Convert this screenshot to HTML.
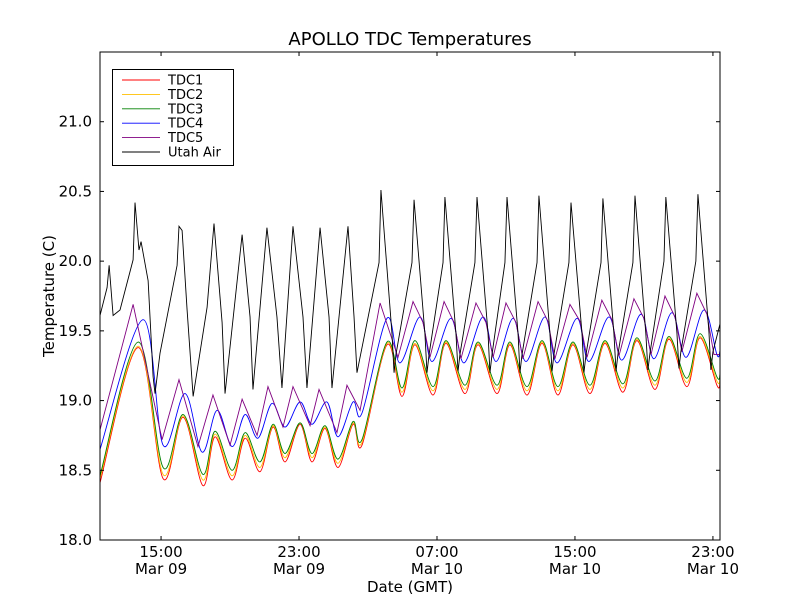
<!DOCTYPE html>
<html><head><meta charset="utf-8"><style>
body{margin:0;background:#fff;}
svg{display:block;font-family:"DejaVu Sans","Liberation Sans",sans-serif;}
</style></head><body>
<svg id="chart" width="800" height="600">
<rect x="0" y="0" width="800" height="600" fill="#fff"/>
<text x="410" y="45" font-size="18" text-anchor="middle">APOLLO TDC Temperatures</text>
<text x="410" y="592" font-size="15" text-anchor="middle">Date (GMT)</text>
<text x="54" y="296" font-size="15" text-anchor="middle" transform="rotate(-90 54 296)">Temperature (C)</text>
<g id="plot"></g>
<g id="axes"></g>
<g id="legend"></g>
</svg>
<script>
const xTicks=[15,23,31,39,47];
const xTickTime=["15:00","23:00","07:00","15:00","23:00"];
const xTickDate=["Mar 09","Mar 09","Mar 10","Mar 10","Mar 10"];
const yTicks=[18.0,18.5,19.0,19.5,20.0,20.5,21.0];
const seriesNames=["TDC1","TDC2","TDC3","TDC4","TDC5","Utah Air"];

const tdcTimes=[11.46,13.67,15.12,16.28,17.43,18.13,19.12,19.87,20.74,21.49,22.19,23.06,23.75,24.51,25.26,26.13,26.65,28.10,28.97,29.72,30.77,31.52,32.62,33.38,34.48,35.23,36.22,37.09,38.01,38.88,39.87,40.74,41.78,42.59,43.64,44.45,45.49,46.25,47.23,47.41];
const tdc1=[18.41,19.38,18.44,18.88,18.39,18.74,18.43,18.73,18.49,18.81,18.56,18.83,18.56,18.80,18.52,18.83,18.68,19.40,19.03,19.40,19.04,19.41,19.05,19.40,19.05,19.40,19.04,19.41,19.04,19.40,19.05,19.41,19.06,19.43,19.08,19.44,19.10,19.45,19.11,19.13];
const tdc2=[18.44,19.39,18.47,18.89,18.43,18.76,18.46,18.75,18.52,18.82,18.59,18.84,18.59,18.81,18.55,18.84,18.70,19.41,19.06,19.41,19.07,19.42,19.08,19.41,19.08,19.41,19.07,19.42,19.07,19.41,19.08,19.42,19.09,19.44,19.11,19.45,19.13,19.46,19.14,19.16];
const tdc3=[18.46,19.42,18.52,18.90,18.47,18.78,18.50,18.77,18.56,18.83,18.62,18.84,18.62,18.82,18.58,18.85,18.72,19.42,19.09,19.43,19.10,19.43,19.11,19.42,19.11,19.42,19.10,19.43,19.10,19.42,19.11,19.43,19.12,19.45,19.14,19.46,19.16,19.48,19.17,19.19];
const tdc4Times=[11.46,13.96,15.12,16.39,17.38,18.25,19.12,19.87,20.62,21.43,22.19,23.06,23.75,24.62,25.26,26.13,26.65,28.10,28.85,30.01,30.71,31.81,32.56,33.67,34.42,35.41,36.16,37.26,37.96,39.12,39.81,40.97,41.72,42.83,43.58,44.62,45.44,46.48,47.23,47.41];
const tdc4=[18.65,19.58,18.68,19.05,18.63,18.93,18.67,18.90,18.73,18.98,18.81,18.99,18.83,18.99,18.74,18.99,18.91,19.59,19.27,19.60,19.28,19.59,19.27,19.60,19.28,19.59,19.28,19.60,19.27,19.59,19.28,19.60,19.29,19.62,19.30,19.63,19.31,19.65,19.33,19.36];
const tdc5Times=[11.46,13.38,15.06,16.04,17.14,18.01,19.00,19.70,20.57,21.20,22.07,22.65,23.64,24.16,25.20,25.78,26.54,27.70,28.74,29.61,30.19,30.59,31.41,31.99,32.39,33.26,33.84,34.25,35.00,35.58,35.98,36.86,37.43,37.84,38.71,39.29,39.70,40.56,41.14,41.55,42.42,43.00,43.41,44.22,44.80,45.20,46.07,46.65,47.06,47.41];
const tdc5=[18.79,19.69,18.72,19.15,18.67,19.04,18.68,19.01,18.75,19.10,18.81,19.10,18.82,19.08,18.77,19.11,18.93,19.70,19.31,19.71,19.56,19.31,19.71,19.56,19.30,19.70,19.56,19.31,19.70,19.56,19.30,19.71,19.57,19.30,19.69,19.57,19.31,19.72,19.58,19.32,19.73,19.59,19.33,19.75,19.60,19.35,19.77,19.62,19.33,19.33];
const airTimes=[11.46,11.87,11.99,12.22,12.62,13.38,13.49,13.72,13.84,14.25,14.54,14.65,14.94,15.93,16.04,16.22,16.51,16.86,17.67,18.07,18.54,18.71,19.70,20.16,20.33,21.14,21.72,22.01,22.65,23.23,23.46,24.22,24.74,24.91,25.84,26.19,26.36,
27.64,27.75,28.39,28.51,28.62,29.55,29.67,30.30,30.42,30.54,31.35,31.46,32.10,32.22,32.33,33.20,33.32,33.96,34.07,34.19,34.94,35.06,35.70,35.81,35.93,36.80,36.91,37.55,37.67,37.78,38.65,38.77,39.41,39.52,39.64,40.51,40.62,41.26,41.38,41.49,42.36,42.48,43.11,43.23,43.35,44.16,44.27,44.91,45.03,45.14,46.01,46.13,46.77,46.88,47.00,47.41];
const airTemps=[19.61,19.81,19.97,19.61,19.65,20.01,20.42,20.08,20.14,19.86,19.17,19.05,19.34,19.97,20.25,20.22,19.65,19.03,19.67,20.27,19.56,19.05,20.19,19.60,19.08,20.24,19.60,19.09,20.25,19.60,19.09,20.24,19.60,19.09,20.25,19.60,19.20,
19.99,20.51,19.48,19.20,19.33,19.99,20.44,19.48,19.20,19.33,19.99,20.46,19.48,19.21,19.33,19.99,20.46,19.48,19.20,19.33,19.99,20.46,19.48,19.20,19.33,19.99,20.47,19.48,19.21,19.33,19.99,20.42,19.48,19.20,19.33,19.99,20.45,19.48,19.21,19.33,19.99,20.47,19.48,19.22,19.34,20.00,20.46,19.49,19.23,19.35,20.00,20.48,19.49,19.22,19.35,19.55];

const NS="http://www.w3.org/2000/svg";
const L=100,R=720,T=52,B=540;
const xMin=11.46,xMax=47.41,yMin=18,yMax=21.5;
function xs(h){return L+(h-xMin)/(xMax-xMin)*(R-L);}
function ys(v){return B-(v-yMin)/(yMax-yMin)*(B-T);}
function mk(tag,parent){const e=document.createElementNS(NS,tag);parent.appendChild(e);return e;}
function smoothPath(t,v){
  const p=t.map((h,i)=>[xs(h),ys(v[i])]);
  let d="M"+p[0][0].toFixed(2)+","+p[0][1].toFixed(2);
  for(let i=0;i<p.length-1;i++){
    const p0=p[Math.max(0,i-1)],p1=p[i],p2=p[i+1],p3=p[Math.min(p.length-1,i+2)];
    const c1x=p1[0]+(p2[0]-p0[0])/6,c1y=p1[1]+(p2[1]-p0[1])/6;
    const c2x=p2[0]-(p3[0]-p1[0])/6,c2y=p2[1]-(p3[1]-p1[1])/6;
    d+="C"+c1x.toFixed(2)+","+c1y.toFixed(2)+" "+c2x.toFixed(2)+","+c2y.toFixed(2)+" "+p2[0].toFixed(2)+","+p2[1].toFixed(2);
  }
  return d;
}
function linePath(t,v){return t.map((h,i)=>(i?"L":"M")+xs(h).toFixed(2)+","+ys(v[i]).toFixed(2)).join("");}

const plot=document.getElementById("plot");
const clip=mk("clipPath",plot);clip.setAttribute("id","pc");
const cr=mk("rect",clip);cr.setAttribute("x",L);cr.setAttribute("y",T);cr.setAttribute("width",R-L);cr.setAttribute("height",B-T);
const series=[
 {name:"tdc1-line",color:"#ff0000",d:smoothPath(tdcTimes,tdc1)},
 {name:"tdc2-line",color:"#ffbf00",d:smoothPath(tdcTimes,tdc2)},
 {name:"tdc3-line",color:"#008000",d:smoothPath(tdcTimes,tdc3)},
 {name:"tdc4-line",color:"#0000ff",d:smoothPath(tdc4Times,tdc4)},
 {name:"tdc5-line",color:"#800080",d:linePath(tdc5Times,tdc5)},
 {name:"utah-air-line",color:"#000000",d:linePath(airTimes,airTemps)}
];
const colors=series.map(s=>s.color);
series.forEach(s=>{
  const p=mk("path",plot);
  p.setAttribute("d",s.d);p.setAttribute("fill","none");p.setAttribute("stroke",s.color);
  p.setAttribute("stroke-width","0.9");p.setAttribute("clip-path","url(#pc)");
  
  
});

const axes=document.getElementById("axes");
const frame=mk("rect",axes);
frame.setAttribute("x",L);frame.setAttribute("y",T);frame.setAttribute("width",R-L);frame.setAttribute("height",B-T);
frame.setAttribute("fill","none");frame.setAttribute("stroke","#000");frame.setAttribute("stroke-width","1");


yTicks.forEach(v=>{
  const y=ys(v);
  [[L,L+4],[R,R-4]].forEach(([a,b])=>{const l=mk("line",axes);l.setAttribute("x1",a);l.setAttribute("x2",b);l.setAttribute("y1",y);l.setAttribute("y2",y);l.setAttribute("stroke","#000");
    
    });
  const t=mk("text",axes);t.setAttribute("x",L-8);t.setAttribute("y",y+5);t.setAttribute("text-anchor","end");t.setAttribute("font-size","15");t.textContent=v.toFixed(1);
  
  
});
xTicks.forEach((h,i)=>{
  const x=xs(h);
  [[B,B-4],[T,T+4]].forEach(([a,b])=>{const l=mk("line",axes);l.setAttribute("x1",x);l.setAttribute("x2",x);l.setAttribute("y1",a);l.setAttribute("y2",b);l.setAttribute("stroke","#000");
    
    });
  const t=mk("text",axes);t.setAttribute("x",x);t.setAttribute("y",557);t.setAttribute("text-anchor","middle");t.setAttribute("font-size","15");t.textContent=xTickTime[i];
  
  
  const t2=mk("text",axes);t2.setAttribute("x",x);t2.setAttribute("y",574);t2.setAttribute("text-anchor","middle");t2.setAttribute("font-size","15");t2.textContent=xTickDate[i];
  
  
});

const lg=document.getElementById("legend");
const box=mk("rect",lg);
box.setAttribute("x",112.5);box.setAttribute("y",69.5);box.setAttribute("width",121);box.setAttribute("height",96);
box.setAttribute("fill","#fff");box.setAttribute("stroke","#000");


seriesNames.forEach((n,i)=>{
  const y=80+i*14.4;
  const l=mk("line",lg);l.setAttribute("x1",122);l.setAttribute("x2",160);l.setAttribute("y1",y);l.setAttribute("y2",y);l.setAttribute("stroke",colors[i]);l.setAttribute("stroke-width","0.9");
  
  
  const t=mk("text",lg);t.setAttribute("x",168);t.setAttribute("y",y+4.5);t.setAttribute("font-size","13");t.textContent=n;
  
  
});
</script>
</body></html>
